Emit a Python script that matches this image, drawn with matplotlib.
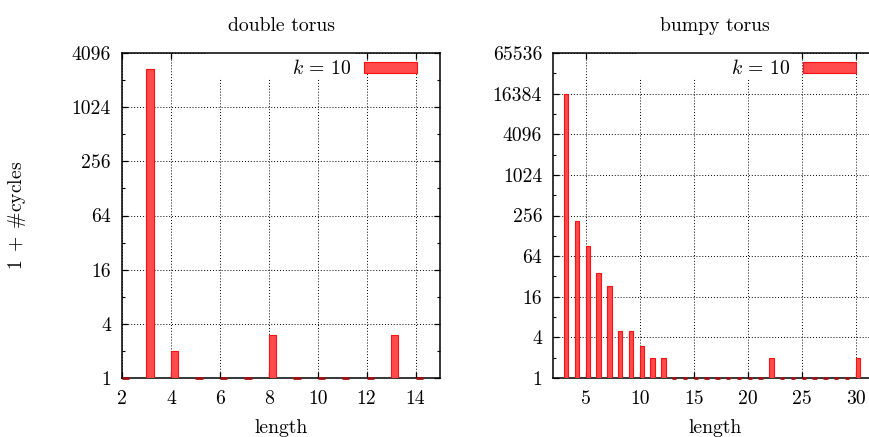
import numpy as np
import matplotlib
matplotlib.use("Agg")
import matplotlib.pyplot as plt
from matplotlib.patches import Rectangle
from matplotlib.ticker import FixedLocator, NullLocator

plt.rcParams["font.family"] = "cmr10"
plt.rcParams["mathtext.fontset"] = "cm"
plt.rcParams["axes.formatter.use_mathtext"] = True

# ── data (value = 1 + #cycles) ───────────────────────────────
double_len    = [2, 3, 4, 5, 6, 7, 8, 9, 10, 11, 12, 13, 14]
double_cycles = [1, 2700, 2, 1, 1, 1, 3, 1, 1, 1, 1, 3, 1]

bumpy_len    = list(range(3, 31))
bumpy_cycles = [16400, 214, 91, 36, 23, 5, 5, 3, 2, 2,
                1, 1, 1, 1, 1, 1, 1, 1, 1, 2,
                1, 1, 1, 1, 1, 1, 1, 2]

double_xticks = [2, 4, 6, 8, 10, 12, 14]
bumpy_xticks  = [5, 10, 15, 20, 25, 30]
double_yticks = [1, 4, 16, 64, 256, 1024, 4096]
bumpy_yticks  = [1, 4, 16, 64, 256, 1024, 4096, 16384, 65536]

FILL = "#ff4b4b"
EDGE = "#ff1010"
FS   = 14.2

W, H = 870, 437
fig = plt.figure(figsize=(W / 100, H / 100), dpi=100)


def panel(rect, xs, ys, width, xlim, ylim, xticks, yticks, title, legend_x):
    ax = fig.add_axes(rect)
    ax.set_yscale("log", base=2)
    ax.set_axisbelow(True)
    ys = np.array(ys, dtype=float)
    xs = np.array(xs, dtype=float)
    ax.bar(xs, ys - 1, bottom=1, width=width, align="edge",
           color=FILL, edgecolor=EDGE, linewidth=0.8, zorder=3,
           label=r"$k\,=\,10$")
    # empty lengths show up as a flat dark-red box on the baseline
    empty = ys <= 1
    ax.hlines(np.ones(empty.sum()), xs[empty], xs[empty] + width,
              color="#a01010", linewidth=2.0, zorder=4, clip_on=False)
    ax.set_xlim(*xlim)
    ax.set_ylim(*ylim)

    ax.xaxis.set_major_locator(FixedLocator(xticks))
    ax.set_xticklabels([str(t) for t in xticks])
    ax.xaxis.set_minor_locator(NullLocator())
    ax.yaxis.set_major_locator(FixedLocator(yticks))
    ax.set_yticklabels([str(t) for t in yticks])
    minors = [t * 2 for t in yticks[:-1]]
    ax.yaxis.set_minor_locator(FixedLocator(minors))
    ax.yaxis.set_minor_formatter(plt.NullFormatter())

    ax.tick_params(which="major", direction="in", length=4, width=0.9,
                   top=True, right=True, labelsize=FS, pad=8)
    ax.tick_params(which="minor", direction="in", length=2.5, width=0.8,
                   top=False, right=True)
    ax.tick_params(axis="x", which="major", pad=9)

    ax.grid(True, which="major", color="black",
            linestyle=(0, (1, 2)), linewidth=0.7)
    for s in ax.spines.values():
        s.set_linewidth(1.1)

    # key area blanks the grid like gnuplot does
    ax.add_patch(Rectangle((0.26, 0.922), 0.475, 0.077,
                           transform=ax.transAxes, facecolor="white",
                           edgecolor="none", zorder=1))

    ax.legend(loc="center right", bbox_to_anchor=(legend_x, 0.951),
              frameon=False, markerfirst=False, borderpad=0,
              borderaxespad=0, handlelength=2.7, handleheight=0.5,
              handletextpad=0.65, fontsize=FS)

    ax.set_title(title, fontsize=FS, pad=16)
    ax.set_xlabel("length", fontsize=FS, labelpad=8)
    return ax


ax1 = panel([122 / W, 59 / H, 318 / W, 325 / H],
            double_len, double_cycles, 0.3, (2, 15), (1, 4096),
            double_xticks, double_yticks, "double torus", 0.927)
ax1.set_ylabel(r"$1\;+\;\#$cycles", fontsize=FS)
ax1.yaxis.set_label_coords(-0.295, 0.5)

ax2 = panel([553.3 / W, 59 / H, 324 / W, 325 / H],
            bumpy_len, bumpy_cycles, 0.4, (2, 32), (1, 65536),
            bumpy_xticks, bumpy_yticks, "bumpy torus", 0.934)

plt.savefig("out.png", dpi=100)
